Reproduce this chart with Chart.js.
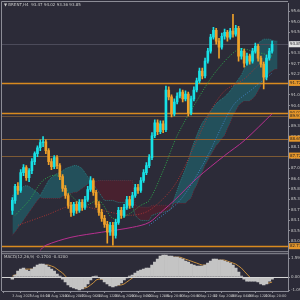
<!DOCTYPE html>
<html>
<head>
<meta charset="utf-8">
<script src="https://cdn.jsdelivr.net/npm/chart.js@4.4.0/dist/chart.umd.min.js"></script>
<style>
  html, body { margin: 0; padding: 0; background: #2c2b38; }
  #wrap { width: 300px; height: 300px; }
</style>
</head>
<body>
<div id="wrap"><canvas id="chart" width="300" height="300"></canvas></div>
<script>
/* Brent H4 with Ichimoku cloud, moving averages, levels and MACD */

const opens = [84.70, 85.25, 86.02, 85.80, 86.78, 87.06, 86.51, 86.89, 87.39, 87.83,
  88.15, 88.43, 88.48, 87.99, 87.39, 87.11, 87.61, 87.17, 86.56, 85.91,
  85.52, 84.98, 84.59, 85.03, 84.70, 85.14, 84.87, 85.30, 85.85, 86.35,
  85.69, 85.03, 84.59, 84.26, 83.93, 83.50, 83.88, 83.33, 84.04, 84.70,
  84.43, 84.87, 85.30, 84.98, 85.52, 85.96, 85.80, 86.35, 86.78, 87.17,
  87.61, 88.81, 89.52, 89.03, 89.47, 89.14, 91.33, 90.95, 90.02, 90.67,
  91.00, 91.22, 90.84, 91.11, 90.07, 90.84, 91.33, 91.83, 92.37, 92.10,
  92.92, 93.47, 94.24, 94.62, 94.02, 93.69, 94.29, 94.51, 94.24, 94.57,
  94.40, 94.73, 93.20, 93.47, 92.81, 93.20, 92.92, 93.47, 93.74, 93.09,
  92.76, 92.04, 93.09, 93.47];
const highs = [85.41, 86.13, 86.24, 86.95, 87.22, 87.17, 87.00, 87.55, 87.93, 88.26,
  88.59, 88.76, 88.59, 88.10, 87.55, 87.72, 87.72, 87.28, 86.67, 86.07,
  85.63, 85.14, 85.14, 85.19, 85.30, 85.30, 85.47, 86.02, 86.56, 86.46,
  85.80, 85.19, 84.76, 84.43, 84.10, 84.04, 84.04, 84.21, 84.87, 84.87,
  85.03, 85.47, 85.47, 85.69, 86.13, 86.13, 86.51, 86.95, 87.33, 87.77,
  88.98, 89.69, 89.69, 89.63, 89.63, 91.55, 91.50, 91.06, 90.84, 91.17,
  91.39, 91.33, 91.28, 91.22, 91.00, 91.50, 91.99, 92.54, 92.54, 93.09,
  93.63, 94.40, 94.78, 94.73, 94.18, 94.46, 94.68, 94.62, 94.73, 95.50,
  94.89, 94.84, 93.63, 93.58, 93.36, 93.31, 93.63, 93.91, 93.85, 93.20,
  92.87, 93.25, 93.63, 94.02];
const lows = [84.48, 85.09, 85.58, 85.69, 86.62, 86.35, 86.29, 86.73, 87.22, 87.66,
  87.99, 88.21, 87.83, 87.22, 86.95, 87.00, 87.00, 86.40, 85.74, 85.36,
  84.81, 84.37, 84.43, 84.54, 84.59, 84.70, 84.76, 85.19, 85.74, 85.52,
  84.87, 84.43, 84.10, 83.77, 82.89, 83.33, 82.78, 83.17, 83.93, 84.26,
  84.32, 84.76, 84.81, 84.87, 85.41, 85.63, 85.69, 86.24, 86.67, 87.06,
  87.50, 88.70, 88.87, 88.92, 88.98, 89.03, 90.78, 89.85, 89.91, 90.57,
  90.89, 90.67, 90.73, 89.91, 89.96, 90.73, 91.22, 91.72, 91.94, 91.99,
  92.81, 93.36, 94.13, 93.85, 93.09, 93.58, 94.13, 94.02, 94.13, 94.24,
  94.29, 92.92, 93.03, 92.59, 92.70, 92.76, 92.81, 93.36, 92.92, 92.59,
  91.39, 91.88, 92.98, 93.36];
const closes = [85.25, 86.02, 85.80, 86.78, 87.06, 86.51, 86.89, 87.39, 87.83, 88.15,
  88.43, 88.48, 87.99, 87.39, 87.11, 87.61, 87.17, 86.56, 85.91, 85.52,
  84.98, 84.59, 85.03, 84.70, 85.14, 84.87, 85.30, 85.85, 86.35, 85.69,
  85.03, 84.59, 84.26, 83.93, 83.50, 83.88, 83.33, 84.04, 84.70, 84.43,
  84.87, 85.30, 84.98, 85.52, 85.96, 85.80, 86.35, 86.78, 87.17, 87.61,
  88.81, 89.52, 89.03, 89.47, 89.14, 91.33, 90.95, 90.02, 90.67, 91.00,
  91.22, 90.84, 91.11, 90.07, 90.84, 91.33, 91.83, 92.37, 92.10, 92.92,
  93.47, 94.24, 94.62, 94.02, 93.69, 94.29, 94.51, 94.24, 94.57, 94.40,
  94.73, 93.20, 93.47, 92.81, 93.20, 92.92, 93.47, 93.74, 93.09, 92.76,
  92.04, 93.09, 93.47, 93.85];

// Ichimoku spans (already shifted, run 2 bars past the last candle)
const spanA = [85.52, 85.63, 85.80, 85.91, 86.02, 86.07, 86.02, 85.91, 85.80, 85.69,
  85.52, 85.80, 86.07, 86.35, 86.51, 86.62, 86.73, 86.78, 86.89, 87.00,
  87.06, 87.11, 87.17, 87.17, 87.11, 87.00, 86.78, 86.56, 86.35, 86.13,
  85.91, 85.69, 85.47, 85.25, 85.25, 85.25, 85.25, 85.19, 85.14, 85.14,
  85.14, 85.09, 85.03, 84.98, 84.43, 84.26, 84.15, 84.15, 84.15, 84.15,
  84.43, 84.48, 84.54, 84.59, 84.59, 84.65, 84.70, 84.81, 85.36, 85.80,
  86.24, 86.62, 87.00, 87.44, 87.99, 88.43, 88.81, 89.20, 89.52, 89.74,
  89.96, 90.18, 90.40, 90.57, 90.73, 90.84, 90.95, 91.11, 91.28, 91.50,
  91.72, 91.94, 92.15, 92.48, 92.81, 93.14, 93.47, 93.74, 93.91, 94.02,
  94.13, 94.13, 94.13, 94.07, 94.02, 94.02];
const spanB = [83.33, 83.50, 83.72, 83.93, 84.15, 84.37, 84.59, 84.81, 85.03, 85.25,
  85.41, 85.36, 85.36, 85.36, 85.36, 85.36, 85.36, 85.36, 85.47, 85.52,
  85.58, 85.63, 85.69, 85.69, 85.80, 85.91, 86.02, 86.13, 86.24, 86.24,
  86.29, 86.35, 86.35, 86.35, 86.35, 86.35, 86.35, 86.35, 86.35, 86.35,
  86.35, 86.35, 86.35, 86.35, 84.98, 84.92, 84.87, 84.87, 84.87, 84.87,
  84.98, 84.98, 84.98, 84.98, 84.98, 84.98, 84.92, 84.87, 85.09, 85.09,
  85.09, 85.09, 85.09, 85.25, 85.36, 85.80, 86.07, 86.46, 86.78, 87.17,
  87.44, 87.72, 87.99, 88.26, 88.43, 88.65, 88.81, 89.20, 89.52, 89.91,
  90.18, 90.46, 90.62, 90.73, 90.73, 90.73, 90.84, 91.00, 91.28, 91.55,
  91.83, 92.10, 92.26, 92.37, 92.48, 92.48];

// moving averages, read at a few bars each
const magentaBars = [10, 12, 21, 32, 43, 49, 54, 58, 66, 76, 83, 93];
const magentaVals = [82.51, 82.78, 83.22, 83.50, 83.77, 84.04, 84.70, 85.25, 86.46, 87.72, 88.54, 90.02];
const greenBars = [1, 6, 11, 16, 21, 26, 31, 36, 41, 46, 49, 54, 59, 66, 73, 81, 86, 93];
const greenVals = [84.43, 85.25, 86.35, 86.62, 85.52, 84.98, 85.25, 84.26, 84.43, 84.98, 85.25, 86.89, 88.81, 90.73, 92.37, 93.58, 93.47, 93.20];
const redBars = [2, 12, 22, 32, 42, 49, 58, 66, 71, 76, 83, 89, 93];
const redVals = [83.88, 84.43, 84.98, 84.70, 84.43, 84.70, 86.07, 88.54, 90.18, 91.28, 91.94, 92.81, 93.03];
const blueBars = [49, 60, 69, 79, 86, 93];
const blueVals = [83.88, 85.25, 87.44, 90.46, 91.39, 92.26];

const macdHist = [-0.17, 0.17, 0.50, 0.67, 0.76, 0.59, 0.50, 0.67, 0.84, 1.01,
  1.09, 1.09, 1.01, 0.84, 0.67, 0.50, 0.25, 0.08, -0.17, -0.42,
  -0.67, -0.84, -0.93, -1.01, -1.09, -1.01, -0.84, -0.59, -0.25, 0.02,
  0.08, -0.02, -0.17, -0.42, -0.59, -0.76, -0.84, -0.76, -0.67, -0.50,
  -0.25, -0.08, 0.08, 0.17, 0.34, 0.50, 0.59, 0.67, 0.76, 0.76,
  1.01, 1.26, 1.51, 1.77, 1.85, 1.85, 1.77, 1.77, 1.68, 1.68,
  1.60, 1.51, 1.35, 1.26, 1.09, 1.01, 0.93, 0.93, 0.93, 1.01,
  1.18, 1.35, 1.51, 1.51, 1.43, 1.43, 1.35, 1.26, 1.18, 1.01,
  0.76, 0.42, 0.08, -0.17, -0.34, -0.34, -0.34, -0.34, -0.42, -0.59,
  -0.67, -0.59, -0.34, -0.17];
const macdSignal = [0.08, 0.17, 0.25, 0.42, 0.59, 0.67, 0.67, 0.67, 0.67, 0.76,
  0.84, 0.93, 1.01, 1.01, 0.93, 0.84, 0.67, 0.50, 0.34, 0.08,
  -0.17, -0.42, -0.59, -0.76, -0.84, -0.93, -0.93, -0.84, -0.67, -0.50,
  -0.25, -0.17, -0.17, -0.25, -0.34, -0.50, -0.59, -0.67, -0.67, -0.67,
  -0.59, -0.42, -0.25, -0.08, 0.08, 0.17, 0.34, 0.42, 0.50, 0.59,
  0.67, 0.84, 1.01, 1.26, 1.43, 1.60, 1.68, 1.68, 1.68, 1.68,
  1.68, 1.60, 1.51, 1.43, 1.35, 1.26, 1.18, 1.09, 1.01, 1.01,
  1.01, 1.09, 1.26, 1.35, 1.43, 1.43, 1.43, 1.35, 1.26, 1.18,
  1.09, 0.93, 0.76, 0.50, 0.25, 0.00, -0.17, -0.25, -0.34, -0.42,
  -0.50, -0.50, -0.50, -0.42];

const levels = [91.72, 90.07, 89.91, 88.65, 87.72, 82.73];
const bid = 93.85;

const yTicks = [95.66, 95.08, 94.51, 93.93, 93.36, 92.78, 92.21, 91.63, 91.06, 90.48,
  89.91, 89.33, 88.76, 88.18, 87.61, 87.03, 86.46, 85.88, 85.31, 84.73,
  84.16, 83.58, 83.01];
const oscTicks = [1.598, 0, -1.098];
const xTickBars = [0, 6, 12, 18, 24, 30, 36, 42, 48, 54, 60, 66, 72, 78, 84, 90];
const xTickLabels = ['3 Aug 2023', '7 Aug 04:00', '10 Aug 12:00', '14 Aug 20:00', '17 Aug 04:00',
  '21 Aug 12:00', '23 Aug 20:00', '28 Aug 04:00', '30 Aug 12:00', '1 Sep 20:00',
  '6 Sep 04:00', '8 Sep 12:00', '12 Sep 20:00', '15 Sep 04:00', '19 Sep 12:00', '21 Sep 20:00'];

const titleText = '\u25BC BRENT,H4  93.47 94.02 93.36 93.85';
const macdText = 'MACD(12,26,9) -0.1700 -0.4200';

/******************* STYLE **********************/

const UP = '#18e1e6';
const DOWN = '#eea12a';
const FRAME = '#8c8c96';
const TEXT = '#c8c8c8';
const levelColors = ['#d98a1f', '#d98a1f', '#6e5238', '#96642c', '#7d5a34', '#d98a1f'];
const levelWidths = [1.5, 1.5, 1, 1, 1, 1.5];

Chart.defaults.font.family = 'DejaVu Sans';

const barColor = ctx => closes[ctx.dataIndex] >= opens[ctx.dataIndex] ? UP : DOWN;
const points = (bars, vals) => bars.map((b, k) => ({ x: b, y: vals[k] }));
const series = vals => vals.map((v, i) => ({ x: i, y: v }));

const maLine = (label, data, color, dash) => ({
  type: 'line', label, data, yAxisID: 'y',
  borderColor: color, borderWidth: 1, borderDash: dash,
  pointRadius: 0, tension: 0.3, fill: false
});

const tinyTicks = {
  font: { size: 4 }, color: TEXT, padding: 1, autoSkip: false, maxRotation: 0
};

/******************* PLUGIN **********************/

const terminal = {
	id: 'terminal',
	beforeDraw(chart) {
		const { ctx, width, height } = chart;
		ctx.save();
		ctx.fillStyle = '#2c2b38';
		ctx.fillRect(0, 0, width, height);
		ctx.restore();
	},
	afterDatasetDraw(chart, args) {
		// levels go above the cloud, under the candles
		if (chart.data.datasets[args.index].label !== 'Senkou A') return;
		const { ctx, chartArea: a } = chart;
		const y = chart.scales.y;
		ctx.save();
		levels.forEach((v, k) => {
			const py = Math.round(y.getPixelForValue(v)) + 0.5;
			ctx.strokeStyle = levelColors[k];
			ctx.lineWidth = levelWidths[k];
			ctx.beginPath(); ctx.moveTo(a.left, py); ctx.lineTo(a.right, py); ctx.stroke();
		});
		const pb = Math.round(y.getPixelForValue(bid)) + 0.5;
		ctx.strokeStyle = '#4c4b5a';
		ctx.lineWidth = 1;
		ctx.beginPath(); ctx.moveTo(a.left, pb); ctx.lineTo(a.right, pb); ctx.stroke();
		ctx.restore();
	},
	afterDraw(chart) {
		const { ctx, chartArea: a } = chart;
		const y = chart.scales.y, y2 = chart.scales.y2;
		ctx.save();

		// panel frames
		ctx.strokeStyle = FRAME;
		ctx.lineWidth = 1;
		ctx.beginPath();
		ctx.moveTo(1.5, y2.bottom); ctx.lineTo(1.5, 1.5); ctx.lineTo(a.right, 1.5);
		ctx.moveTo(1.5, y.bottom - 0.5); ctx.lineTo(a.right, y.bottom - 0.5);
		ctx.moveTo(1.5, y2.top + 1.5); ctx.lineTo(a.right, y2.top + 1.5);
		ctx.stroke();

		// MACD zero line
		const z = Math.round(y2.getPixelForValue(0)) + 0.5;
		ctx.strokeStyle = '#d6d6d6';
		ctx.beginPath(); ctx.moveTo(a.left, z); ctx.lineTo(a.right, z); ctx.stroke();

		// captions
		ctx.font = '4px "DejaVu Sans"';
		ctx.textBaseline = 'middle';
		ctx.textAlign = 'left';
		ctx.fillStyle = TEXT;
		ctx.fillText(titleText, 4, 4.5);
		ctx.fillText(macdText, 4, y2.top + 5);

		// price boxes on the axis
		const box = (v, fill) => {
			const py = y.getPixelForValue(v);
			ctx.fillStyle = fill;
			ctx.fillRect(a.right + 1, py - 3, 11, 6);
			ctx.fillStyle = '#1c1c22';
			ctx.fillText(v.toFixed(2), a.right + 2, py);
		};
		levels.forEach(v => box(v, '#e3952a'));
		box(bid, '#e2e2e2');
		ctx.restore();
	}
};

/******************* CHART **********************/

new Chart(document.getElementById('chart'), {
	type: 'bar',
	data: {
		datasets: [
			{ type: 'bar', label: 'Body', data: closes.map((c, i) => ({ x: i, y: [opens[i], c] })),
			  yAxisID: 'y', backgroundColor: barColor, barThickness: 2, grouped: false, borderWidth: 0 },
			{ type: 'bar', label: 'Wick', data: closes.map((c, i) => ({ x: i, y: [lows[i], highs[i]] })),
			  yAxisID: 'y', backgroundColor: barColor, barThickness: 1, grouped: false, borderWidth: 0 },
			maLine('Fast MA', points(greenBars, greenVals), '#2da64a', [1, 1.5]),
			maLine('Mid MA', points(redBars, redVals), '#a83434', [1, 1.5]),
			maLine('Slow MA', points(blueBars, blueVals), '#3f7fbf', [1, 1.5]),
			maLine('Long MA', points(magentaBars, magentaVals), '#b8308f', []),
			{ type: 'line', label: 'Senkou A', data: series(spanA), yAxisID: 'y',
			  borderColor: '#2a8a8c', borderWidth: 0.8, borderDash: [1, 1], pointRadius: 0,
			  fill: { target: '+1', above: 'rgba(30,112,120,0.55)', below: 'rgba(92,26,42,0.6)' } },
			{ type: 'line', label: 'Senkou B', data: series(spanB), yAxisID: 'y',
			  borderColor: '#7e2838', borderWidth: 0.8, borderDash: [1, 1], pointRadius: 0, fill: false },
			{ type: 'bar', label: 'MACD', data: series(macdHist), yAxisID: 'y2',
			  backgroundColor: '#c4c4c4', barPercentage: 1, categoryPercentage: 1, grouped: false, borderWidth: 0 },
			{ type: 'line', label: 'Signal', data: series(macdSignal), yAxisID: 'y2',
			  borderColor: '#c89040', borderWidth: 1, pointRadius: 0, fill: false }
		]
	},
	options: {
		responsive: false,
		animation: false,
		devicePixelRatio: 1,
		layout: { padding: { left: 2, top: 2, right: 0, bottom: 0 } },
		plugins: { legend: { display: false }, tooltip: { enabled: false } },
		scales: {
			x: {
				type: 'linear', position: 'bottom', min: -0.5, max: 95.5,
				afterBuildTicks: s => { s.ticks = xTickBars.map(v => ({ value: v })); },
				afterFit: s => { s.height = 9; },
				ticks: { ...tinyTicks, font: { size: 3.4 }, align: 'start', callback: (v, i) => xTickLabels[i] },
				grid: { drawOnChartArea: false, tickLength: 2, color: FRAME },
				border: { color: FRAME }
			},
			y: {
				type: 'linear', position: 'right', stack: 'panes', stackWeight: 250,
				min: 82.40, max: 96.10,
				afterBuildTicks: s => { s.ticks = yTicks.map(v => ({ value: v })); },
				afterFit: s => { s.width = 12; },
				ticks: { ...tinyTicks, callback: v => v.toFixed(2) },
				grid: { drawOnChartArea: false, tickLength: 2, color: FRAME },
				border: { color: FRAME }
			},
			y2: {
				type: 'linear', position: 'right', stack: 'panes', stackWeight: 39,
				min: -1.18, max: 2.10,
				afterBuildTicks: s => { s.ticks = oscTicks.map(v => ({ value: v })); },
				afterFit: s => { s.width = 12; },
				ticks: { ...tinyTicks, callback: v => v === 0 ? '0.00' : v.toFixed(3) },
				grid: { drawOnChartArea: false, tickLength: 2, color: FRAME },
				border: { color: FRAME }
			}
		}
	},
	plugins: [terminal]
});
</script>
</body>
</html>
